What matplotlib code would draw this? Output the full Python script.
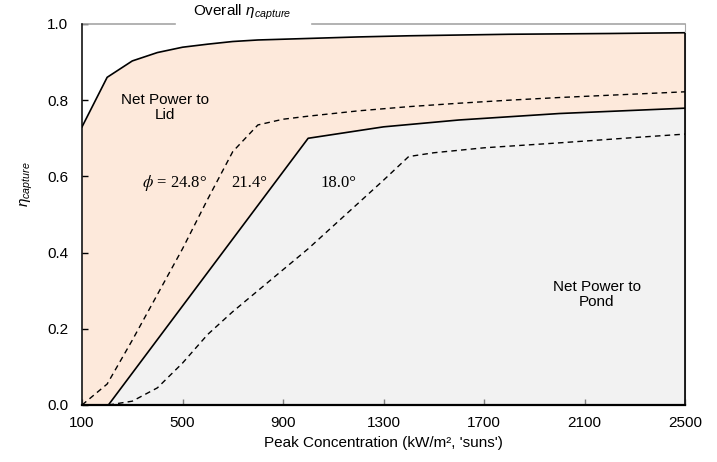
import numpy as np
import matplotlib.pyplot as plt

plt.rcParams['font.family'] = ['Liberation Sans', 'DejaVu Sans']
plt.rcParams['mathtext.fontset'] = 'custom'
plt.rcParams['mathtext.rm'] = 'Liberation Sans'
plt.rcParams['mathtext.it'] = 'Liberation Sans:italic'

# overall capture efficiency
x_overall = [100, 200, 300, 400, 500, 600, 700, 800, 900, 1000, 1200, 1400, 1600, 1800, 2000, 2200, 2500]
y_overall = [0.73, 0.86, 0.903, 0.925, 0.939, 0.947, 0.954, 0.958, 0.960, 0.962, 0.966, 0.969, 0.971, 0.973, 0.974, 0.975, 0.977]

# phi = 21.4 deg (solid, boundary lid/pond)
x_214 = [100, 205, 1000, 1300, 1600, 2000, 2500]
y_214 = [0.0, 0.0, 0.70, 0.73, 0.748, 0.765, 0.779]

# phi = 24.8 deg (dashed)
x_248 = [100, 200, 300, 400, 500, 600, 700, 800, 900, 1000, 1200, 1400, 1600, 1800, 2000, 2200, 2500]
y_248 = [0.0, 0.055, 0.17, 0.29, 0.41, 0.54, 0.665, 0.735, 0.75, 0.758, 0.772, 0.783, 0.792, 0.800, 0.807, 0.813, 0.822]

# phi = 18.0 deg (dashed)
x_180 = [205, 300, 400, 500, 600, 700, 800, 900, 1000, 1100, 1200, 1300, 1400, 1500, 1700, 2000, 2300, 2500]
y_180 = [0.0, 0.01, 0.045, 0.11, 0.185, 0.245, 0.30, 0.355, 0.41, 0.47, 0.53, 0.59, 0.652, 0.662, 0.675, 0.688, 0.702, 0.711]

xticks = [100, 500, 900, 1300, 1700, 2100, 2500]
yticks = [0.0, 0.2, 0.4, 0.6, 0.8, 1.0]

fig = plt.figure(figsize=(7.17, 4.62), dpi=100)
ax = fig.add_axes([0.1144, 0.1234, 0.841, 0.8247])

# filled regions
xg = np.union1d(x_overall, x_214)
top = np.interp(xg, x_overall, y_overall)
mid = np.interp(xg, x_214, y_214)
ax.fill_between(xg, mid, top, color='#fde9db', lw=0)
ax.fill_between(xg, 0, mid, color='#f2f2f2', lw=0)

ax.plot(x_overall, y_overall, color='black', lw=1.2)
ax.plot(x_214, y_214, color='black', lw=1.2)
ax.plot(x_248, y_248, color='black', lw=1.0, ls=(0, (4, 3)))
ax.plot(x_180, y_180, color='black', lw=1.0, ls=(0, (4, 3)))
ax.vlines(2500, 0, y_overall[-1], color='black', lw=1.2, clip_on=False, zorder=3)

ax.set_xlim(100, 2500)
ax.set_ylim(0, 1.0)
ax.set_xticks(xticks)
ax.set_yticks(yticks)
ax.set_yticklabels(['%.1f' % v for v in yticks])
ax.tick_params(axis='x', direction='in', length=4, width=1, color='#808080', pad=8, labelsize=11)
ax.tick_params(axis='y', direction='in', length=4, width=1, color='black', pad=10, labelsize=11)

ax.spines['top'].set_visible(False)
ax.spines['right'].set_color('#a6a6a6')
ax.spines['left'].set_linewidth(1.1)
ax.spines['bottom'].set_linewidth(1.6)

# grey frame on top with a gap for the title
ax.axhline(1.0, 0, 0.154, color='#a6a6a6', lw=1.2, clip_on=False)
ax.axhline(1.0, 0.381, 1, color='#a6a6a6', lw=1.2, clip_on=False)
ax.text(0.266, 1.03, r'Overall $\eta_{capture}$', transform=ax.transAxes,
        ha='center', va='center', fontsize=11)

ax.set_xlabel("Peak Concentration (kW/m², 'suns')", fontsize=11, labelpad=4)
ax.set_ylabel(r'$\eta_{capture}$', fontsize=11)
ax.yaxis.set_label_coords(-0.078, 0.58)

ax.text(0.138, 0.78, 'Net Power to\nLid', transform=ax.transAxes,
        ha='center', va='center', fontsize=11, linespacing=1.1)
ax.text(0.854, 0.29, 'Net Power to\nPond', transform=ax.transAxes,
        ha='center', va='center', fontsize=11, linespacing=1.1)

serif = ['Liberation Serif', 'DejaVu Serif']
ax.text(0.154, 0.583, r'$\phi$ = 24.8°', transform=ax.transAxes, ha='center', va='center',
        fontsize=12, family=serif, math_fontfamily='stix')
ax.text(0.277, 0.583, '21.4°', transform=ax.transAxes, ha='center', va='center',
        fontsize=12, family=serif)
ax.text(0.425, 0.583, '18.0°', transform=ax.transAxes, ha='center', va='center',
        fontsize=12, family=serif)

fig.savefig('out.png', dpi=100)
